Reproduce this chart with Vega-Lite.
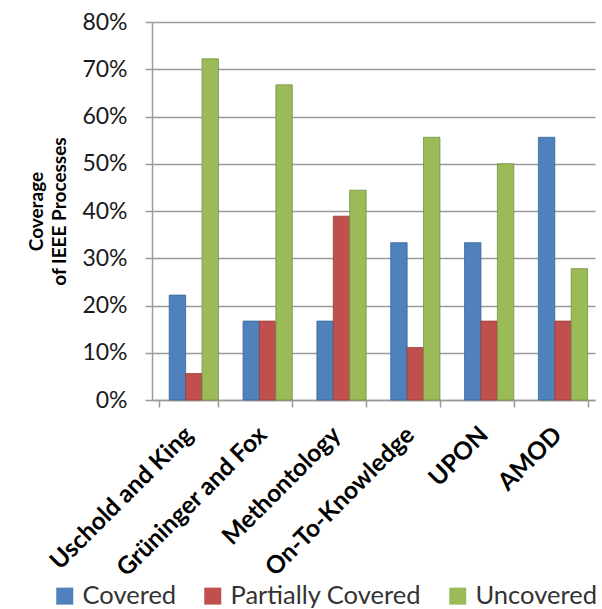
{
  "$schema": "https://vega.github.io/schema/vega-lite/v6.json",
  "width": 443,
  "height": 378,
  "autosize": {"type": "none"},
  "padding": {"left": 152, "top": 22, "right": 7, "bottom": 209},
  "background": "white",
  "config": {
    "font": "Lato",
    "view": {"stroke": null}
  },
  "data": {
    "values": [
      {"method": "Uschold and King", "status": "Covered", "coverage": 0.222},
      {"method": "Uschold and King", "status": "Partially Covered", "coverage": 0.056},
      {"method": "Uschold and King", "status": "Uncovered", "coverage": 0.722},
      {"method": "Grüninger and Fox", "status": "Covered", "coverage": 0.167},
      {"method": "Grüninger and Fox", "status": "Partially Covered", "coverage": 0.167},
      {"method": "Grüninger and Fox", "status": "Uncovered", "coverage": 0.667},
      {"method": "Methontology", "status": "Covered", "coverage": 0.167},
      {"method": "Methontology", "status": "Partially Covered", "coverage": 0.389},
      {"method": "Methontology", "status": "Uncovered", "coverage": 0.444},
      {"method": "On-To-Knowledge", "status": "Covered", "coverage": 0.333},
      {"method": "On-To-Knowledge", "status": "Partially Covered", "coverage": 0.111},
      {"method": "On-To-Knowledge", "status": "Uncovered", "coverage": 0.556},
      {"method": "UPON", "status": "Covered", "coverage": 0.333},
      {"method": "UPON", "status": "Partially Covered", "coverage": 0.167},
      {"method": "UPON", "status": "Uncovered", "coverage": 0.5},
      {"method": "AMOD", "status": "Covered", "coverage": 0.556},
      {"method": "AMOD", "status": "Partially Covered", "coverage": 0.167},
      {"method": "AMOD", "status": "Uncovered", "coverage": 0.278}
    ]
  },
  "mark": {"type": "bar", "strokeWidth": 0.8},
  "encoding": {
    "x": {
      "field": "method",
      "type": "nominal",
      "sort": null,
      "title": null,
      "scale": {"paddingInner": 0.2, "paddingOuter": 0.1},
      "axis": {
        "labelAngle": -45,
        "labelAlign": "right",
        "labelBaseline": "middle",
        "labelFontSize": 24.5,
        "labelFontWeight": "bold",
        "labelColor": "black",
        "labelPadding": 24,
        "labelLimit": 400,
        "labelOverlap": false,
        "tickBand": "extent",
        "tickColor": "#9a9a9a",
        "tickWidth": 1.5,
        "tickSize": 7,
        "domainColor": "#9a9a9a",
        "domainWidth": 1.5
      }
    },
    "xOffset": {
      "field": "status",
      "type": "nominal",
      "sort": ["Covered", "Partially Covered", "Uncovered"],
      "scale": {"paddingInner": 0, "paddingOuter": 0.3, "align": 1}
    },
    "y": {
      "field": "coverage",
      "type": "quantitative",
      "scale": {"domain": [0, 0.8]},
      "title": ["Coverage", "of IEEE Processes"],
      "axis": {
        "format": ".0%",
        "values": [0, 0.1, 0.2, 0.3, 0.4, 0.5, 0.6, 0.7, 0.8],
        "labelOverlap": false,
        "labelFontSize": 23,
        "labelColor": "#1a1a1a",
        "labelPadding": 18,
        "tickSize": 7,
        "tickColor": "#9a9a9a",
        "tickWidth": 1.5,
        "domainColor": "#9a9a9a",
        "domainWidth": 1.5,
        "gridColor": "#9a9a9a",
        "gridWidth": 1.5,
        "titleFontSize": 19,
        "titleFontWeight": "bold",
        "titleColor": "black",
        "titlePadding": 12,
        "titleLineHeight": 23
      }
    },
    "color": {
      "field": "status",
      "type": "nominal",
      "sort": ["Covered", "Partially Covered", "Uncovered"],
      "scale": {
        "domain": ["Covered", "Partially Covered", "Uncovered"],
        "range": ["#4F81BD", "#C0504D", "#9BBB59"]
      },
      "legend": {
        "title": null,
        "orient": "none",
        "direction": "horizontal",
        "legendX": -100,
        "legendY": 561,
        "symbolType": "square",
        "symbolSize": 289,
        "symbolStrokeWidth": 0,
        "labelFontSize": 25.5,
        "labelColor": "#333333",
        "columnPadding": 23,
        "labelOffset": 5,
        "labelLimit": 400
      }
    },
    "stroke": {
      "field": "status",
      "type": "nominal",
      "sort": ["Covered", "Partially Covered", "Uncovered"],
      "scale": {
        "domain": ["Covered", "Partially Covered", "Uncovered"],
        "range": ["#3A6699", "#9A3C3A", "#74903E"]
      },
      "legend": null
    }
  }
}
